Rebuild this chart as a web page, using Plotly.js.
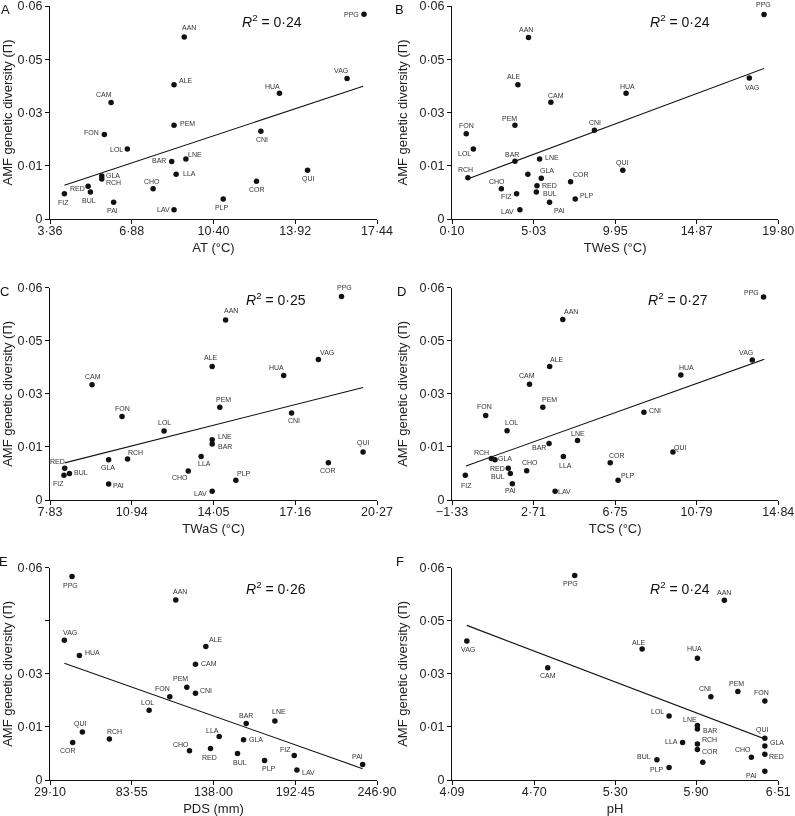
<!DOCTYPE html>
<html><head><meta charset="utf-8">
<script src="https://cdn.plot.ly/plotly-3.0.1.min.js"></script>
<style>html,body{margin:0;padding:0;background:#fff}#chart{width:795px;height:816px;filter:grayscale(100%)}</style>
</head><body><div id="chart"></div>
<script>
// Sites (same order for every panel)
const sites = ['AAN','ALE','BAR','BUL','CAM','CHO','CNI','COR','FIZ','FON','GLA','HUA','LAV','LLA','LNE','LOL','PAI','PEM','PLP','PPG','QUI','RCH','RED','VAG'];

// Panel A: AT (°C)
const atX = [9.14,8.70,8.60,5.10,5.99,7.80,12.44,12.25,3.98,5.70,5.59,13.24,8.70,8.79,9.21,6.69,6.10,8.70,10.82,16.88,14.45,5.59,5.00,16.15];
const atY = [0.0513,0.0378,0.0162,0.0076,0.0328,0.0085,0.0247,0.0106,0.0071,0.0238,0.0121,0.0354,0.0026,0.0126,0.0169,0.0197,0.0047,0.0264,0.0056,0.0577,0.0137,0.0113,0.0092,0.0396];
const atFitX = [3.98, 16.84];
const atFitY = [0.0095, 0.0374];
const atTicks = [3.36, 6.88, 10.40, 13.92, 17.44];

// Panel B: TWeS (°C)
const twesX = [4.72,4.08,3.90,5.19,6.07,3.08,8.70,7.26,4.00,0.96,5.49,10.61,4.20,4.68,5.39,1.39,5.99,3.90,7.54,18.94,10.41,1.06,5.23,18.05];
const twesY = [0.0511,0.0378,0.0163,0.0076,0.0329,0.0085,0.0250,0.0105,0.0071,0.0240,0.0115,0.0354,0.0026,0.0126,0.0169,0.0197,0.0047,0.0264,0.0056,0.0576,0.0137,0.0116,0.0094,0.0397];
const twesFitX = [1.00, 18.94];
const twesFitY = [0.0112, 0.0424];
const twesTicks = [0.10, 5.03, 9.95, 14.87, 19.80];

// Panel C: TWaS (°C)
const twasX = [14.51,14.00,14.00,8.57,9.43,13.09,17.02,18.42,8.36,10.57,10.06,16.72,14.00,13.58,14.00,12.17,10.06,14.29,14.90,18.92,19.74,10.78,8.39,18.04];
const twasY = [0.0509,0.0377,0.0158,0.0075,0.0326,0.0082,0.0246,0.0105,0.0070,0.0236,0.0114,0.0352,0.0025,0.0123,0.0170,0.0195,0.0045,0.0262,0.0056,0.0575,0.0136,0.0116,0.0090,0.0397];
const twasFitX = [8.39, 19.74];
const twasFitY = [0.0105, 0.0318];
const twasTicks = [7.83, 10.94, 14.05, 17.16, 20.27];

// Panel D: TCS (°C)
const tcsX = [4.16,3.51,3.48,1.56,2.51,2.37,8.18,6.51,-0.67,0.34,0.80,10.01,3.78,4.19,4.89,1.40,1.66,3.17,6.90,14.11,9.62,0.62,1.46,13.55];
const tcsY = [0.0510,0.0377,0.0160,0.0075,0.0327,0.0083,0.0248,0.0105,0.0070,0.0239,0.0114,0.0353,0.0025,0.0123,0.0168,0.0196,0.0046,0.0262,0.0056,0.0574,0.0136,0.0117,0.0090,0.0396];
const tcsFitX = [-0.64, 14.15];
const tcsFitY = [0.0096, 0.0398];
const tcsTicks = [-1.33, 2.71, 6.75, 10.79, 14.84];

// Panel E: PDS (mm)
const pdsX = [112.88,132.89,159.78,154.0,126.0,122.0,126.0,44.21,191.78,108.88,158.0,48.66,193.56,141.78,178.89,95.11,237.34,120.22,172.0,43.77,50.66,68.66,136.0,38.66];
const pdsY = [0.0509,0.0377,0.0160,0.0075,0.0327,0.0083,0.0245,0.0106,0.0069,0.0235,0.0114,0.0352,0.0028,0.0123,0.0167,0.0197,0.0044,0.0262,0.0055,0.0575,0.0136,0.0116,0.0089,0.0395];
const pdsFitX = [38.66, 237.34];
const pdsFitY = [0.0330, 0.0032];
const pdsTicks = [29.10, 83.55, 138.00, 192.45, 246.90];

// Panel F: pH
const phX = [6.11,5.50,5.91,5.61,4.80,6.31,6.01,5.91,5.95,6.41,6.41,5.91,null,5.80,5.91,5.70,6.41,6.21,5.70,5.00,6.41,5.91,6.41,4.20];
const phY = [0.0508,0.0370,0.0144,0.0057,0.0317,0.0064,0.0235,0.0086,0.0050,0.0223,0.0096,0.0344,null,0.0106,0.0154,0.0181,0.0025,0.0250,0.0035,0.0578,0.0118,0.0102,0.0073,0.0393];
const phFitX = [4.20, 6.41];
const phFitY = [0.0437, 0.0116];
const phTicks = [4.09, 4.70, 5.30, 5.90, 6.51];

const panelLetters = ['A','B','C','D','E','F'];
const xTitles = ['AT (°C)','TWeS (°C)','TWaS (°C)','TCS (°C)','PDS (mm)','pH'];
const r2Values = ['0·24','0·24','0·25','0·27','0·26','0·24'];
const yTitle = 'AMF genetic diversity (Π)';
const yTickVals = [0, 0.015, 0.03, 0.045, 0.06];
const yTickText = ['0','0·01','0·03','0·05','0·06'];
const yTickTextE = ['0','0·01','0·03',' ','0·06'];

// ---- layout / style (label offsets in screen px: [dx, dy], dy down) ----
const labelOffsets = [
 {AAN:[5,-9],ALE:[12,-4],BAR:[-13,-1],BUL:[-1,8],CAM:[-7,-8],CHO:[-1,-7],CNI:[1,8],COR:[1,8],FIZ:[-1,9],FON:[-13,-2],GLA:[11,-1],HUA:[-7,-7],LAV:[-11,0],LLA:[13,-1],LNE:[9,-5],LOL:[-11,0],PAI:[-1,8],PEM:[13,-2],PLP:[-1,8],PPG:[-12,0],QUI:[1,9],RCH:[12,4],RED:[-11,2],VAG:[-6,-8]},
 {AAN:[-3,-8],ALE:[-4,-8],BAR:[-3,-7],BUL:[14,1],CAM:[5,-7],CHO:[-4,-7],CNI:[1,-8],COR:[10,-7],FIZ:[-10,3],FON:[0,-8],GLA:[6,-8],HUA:[1,-7],LAV:[-12,2],LNE:[12,-2],LOL:[-9,4],PAI:[10,8],PEM:[-5,-7],PLP:[12,-4],PPG:[-1,-10],QUI:[0,-7],RCH:[-2,-8],RED:[13,0],VAG:[3,9]},
 {AAN:[5,-9],ALE:[-1,-9],BAR:[13,2],BUL:[12,-1],CAM:[1,-8],CHO:[-8,7],CNI:[2,8],COR:[0,8],FIZ:[-5,8],FON:[0,-8],GLA:[-1,8],HUA:[-7,-8],LAV:[-12,2],LLA:[3,7],LNE:[13,-3],LOL:[0,-9],PAI:[10,1],PEM:[4,-8],PLP:[8,-7],PPG:[3,-9],QUI:[0,-9],RCH:[8,-6],RED:[-7,-7],VAG:[9,-7]},
 {AAN:[8,-8],ALE:[7,-7],BAR:[-10,4],BUL:[-12,3],CAM:[-2,-9],CHO:[3,-8],CNI:[11,-2],COR:[7,-7],FIZ:[1,10],FON:[-1,-9],GLA:[10,-1],HUA:[6,-8],LAV:[9,0],LLA:[2,9],LNE:[0,-7],LOL:[4,-8],PAI:[-2,7],PEM:[7,-8],PLP:[10,-5],PPG:[-12,-4],QUI:[8,-4],RCH:[-10,-6],RED:[-11,0],VAG:[-6,-7]},
 {AAN:[4,-8],ALE:[10,-7],BAR:[0,-8],BUL:[2,9],CAM:[14,-1],CHO:[-8,-6],CNI:[11,-3],COR:[-5,8],FIZ:[-9,-6],FON:[-7,-8],GLA:[12,0],HUA:[13,-3],LAV:[12,2],LLA:[-7,-6],LNE:[4,-9],LOL:[-2,-8],PAI:[-5,-8],PEM:[-6,-9],PLP:[4,8],PPG:[-2,9],QUI:[-2,-8],RCH:[5,-7],RED:[-1,9],VAG:[6,-8]},
 {AAN:[0,-8],ALE:[-3,-7],BAR:[13,1],BUL:[-13,-3],CAM:[0,8],CHO:[-8,-8],CNI:[-6,-8],COR:[13,2],FON:[-3,-9],GLA:[12,-4],HUA:[-3,-10],LLA:[-11,-1],LNE:[-7,-6],LOL:[-12,-4],PAI:[-13,4],PEM:[-1,-8],PLP:[-12,2],PPG:[-4,8],QUI:[-2,-8],RCH:[12,-4],RED:[12,2],VAG:[1,9]}
];

const W = 795, H = 816;
const colPx = [[50, 377], [452, 778.3]];
const rowPx = [[6, 219], [287.7, 500], [567.7, 780]];
const letterPx = [[5,0],[399,0],[4,282],[401,282],[3,552],[400,552]];
const r2Px = [[272,21],[680,21],[276,299],[678,299],[276,588],[680,588]];

const panels = [
  {x: atX, y: atY, fx: atFitX, fy: atFitY, ticks: atTicks},
  {x: twesX, y: twesY, fx: twesFitX, fy: twesFitY, ticks: twesTicks},
  {x: twasX, y: twasY, fx: twasFitX, fy: twasFitY, ticks: twasTicks},
  {x: tcsX, y: tcsY, fx: tcsFitX, fy: tcsFitY, ticks: tcsTicks},
  {x: pdsX, y: pdsY, fx: pdsFitX, fy: pdsFitY, ticks: pdsTicks},
  {x: phX, y: phY, fx: phFitX, fy: phFitY, ticks: phTicks}
];

const fmt = v => v.toFixed(2).replace('.', '·').replace('-', '−');
const FONT = 'Liberation Sans, Arial, sans-serif';
const traces = [];
const layout = {
  width: W, height: H, margin: {l:0, r:0, t:0, b:0},
  paper_bgcolor: '#fff', plot_bgcolor: '#fff', showlegend: false,
  font: {family: FONT, color: '#222', size: 13},
  annotations: []
};

panels.forEach((p, i) => {
  const n = i === 0 ? '' : String(i + 1);
  const col = colPx[i % 2], row = rowPx[Math.floor(i / 2)];
  const xa = 'x' + n, ya = 'y' + n;
  traces.push({
    type: 'scatter', mode: 'markers', x: p.x, y: p.y, xaxis: xa, yaxis: ya,
    text: sites, marker: {color: '#111', size: 5.5}, cliponaxis: false, hoverinfo: 'text+x+y'
  });
  traces.push({
    type: 'scatter', mode: 'lines', x: p.fx, y: p.fy, xaxis: xa, yaxis: ya,
    line: {color: '#111', width: 1.1}, hoverinfo: 'skip'
  });
  const axCommon = {
    showline: true, linecolor: '#111', linewidth: 1, ticks: 'outside', ticklen: 4, tickwidth: 1,
    tickcolor: '#111', showgrid: false, zeroline: false, mirror: false, fixedrange: true,
    ticklabeloverflow: 'allow',
    tickfont: {size: 12.5, color: '#222', family: FONT}
  };
  layout['xaxis' + n] = Object.assign({}, axCommon, {
    domain: [col[0] / W, col[1] / W], anchor: ya, ticklabelstandoff: -4,
    range: [p.ticks[0], p.ticks[4]], tickmode: 'array', tickvals: p.ticks, ticktext: p.ticks.map(fmt),
    title: {text: xTitles[i], font: {size: 13, color: '#222', family: FONT}, standoff: 5}
  });
  layout['yaxis' + n] = Object.assign({}, axCommon, {
    domain: [1 - row[1] / H, 1 - row[0] / H], anchor: xa,
    range: [0, 0.06], tickmode: 'array', tickvals: yTickVals, ticktext: i === 4 ? yTickTextE : yTickText,
    title: {text: yTitle, font: {size: 13, color: '#222', family: FONT}, standoff: 8}
  });
  sites.forEach((s, k) => {
    const off = labelOffsets[i][s];
    if (!off || p.x[k] == null) return;
    layout.annotations.push({
      x: p.x[k], y: p.y[k], xref: xa, yref: ya, text: s, showarrow: false,
      xshift: off[0], yshift: -off[1], font: {size: 7, color: '#333', family: FONT},
      xanchor: 'center', yanchor: 'middle'
    });
  });
  layout.annotations.push({
    xref: 'paper', yref: 'paper', x: r2Px[i][0] / W, y: 1 - r2Px[i][1] / H,
    text: '<i>R</i><sup>2</sup> = ' + r2Values[i], showarrow: false,
    xanchor: 'center', yanchor: 'middle', font: {size: 14, color: '#111', family: FONT}
  });
  layout.annotations.push({
    xref: 'paper', yref: 'paper', x: letterPx[i][0] / W, y: 1 - letterPx[i][1] / H,
    text: panelLetters[i], showarrow: false, xanchor: 'center', yanchor: 'top',
    font: {size: 13, color: '#111', family: FONT}
  });
});

Plotly.newPlot('chart', traces, layout, {displayModeBar: false, staticPlot: true});
</script></body></html>
